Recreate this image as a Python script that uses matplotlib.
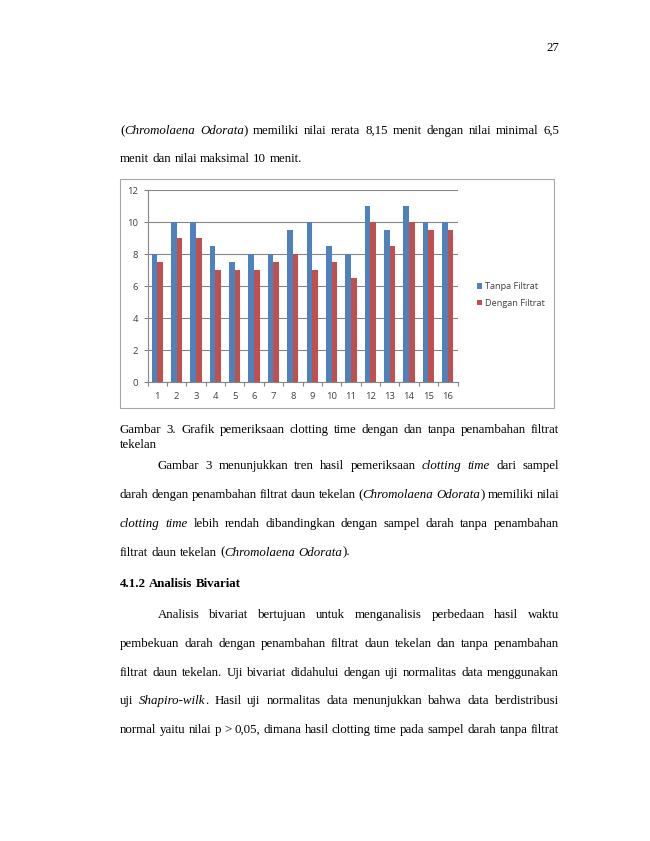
import matplotlib
matplotlib.use("Agg")
import matplotlib.pyplot as plt
import numpy as np
from matplotlib.patches import Rectangle

# Données (clotting time, en minutes)
sampel = [str(i) for i in range(1, 17)]
tanpa_filtrat = [8, 10, 10, 8.5, 7.5, 8, 8, 9.5, 10, 8.5, 8, 11, 9.5, 11, 10, 10]
dengan_filtrat = [7.5, 9, 9, 7, 7, 7, 7.5, 8, 7, 7.5, 6.5, 10, 8.5, 10, 9.5, 9.5]
y_ticks = [0, 2, 4, 6, 8, 10, 12]
legende = ["Tanpa Filtrat", "Dengan Filtrat"]

# Texte de la page ('*' = italique, '#' = gras)
ligne_haut = [
    "(*Chromolaena Odorata*) memiliki nilai rerata 8,15 menit dengan nilai minimal 6,5",
    "menit dan nilai maksimal 10 menit.",
]
legende_fig = [
    "Gambar 3. Grafik pemeriksaan clotting time dengan dan tanpa penambahan filtrat",
    "tekelan",
]
paragraphe1 = [
    "Gambar 3  menunjukkan tren hasil pemeriksaan *clotting time* dari sampel",
    "darah dengan penambahan filtrat daun tekelan (*Chromolaena Odorata*) memiliki nilai",
    "*clotting time* lebih rendah dibandingkan dengan sampel darah tanpa penambahan",
    "filtrat daun tekelan (*Chromolaena Odorata*).",
]
titre = "#4.1.2 Analisis Bivariat#"
paragraphe2 = [
    "Analisis bivariat bertujuan untuk menganalisis perbedaan hasil waktu",
    "pembekuan darah dengan penambahan filtrat daun tekelan dan tanpa penambahan",
    "filtrat daun tekelan. Uji bivariat didahului dengan uji normalitas data menggunakan",
    "uji *Shapiro-wilk*. Hasil uji normalitas data menunjukkan bahwa data berdistribusi",
    "normal yaitu nilai p > 0,05, dimana hasil clotting time pada sampel darah tanpa filtrat",
]

W, H = 650, 841
fig = plt.figure(figsize=(W / 100, H / 100), dpi=100)
fig.patch.set_facecolor("white")
renderer = fig.canvas.get_renderer()

SERIF = "Liberation Serif"
FS = 9.3
MARGE_G, MARGE_D = 120, 559


def parse(ligne):
    # découpe la ligne en mots, chaque mot = liste de (texte, style)
    mots = []
    italique = False
    gras = False
    for mot in ligne.split(" "):
        if mot == "":
            continue
        segs = []
        cur = ""
        for c in mot:
            if c in "*#":
                if cur:
                    segs.append((cur, italique, gras))
                cur = ""
                if c == "*":
                    italique = not italique
                else:
                    gras = not gras
            else:
                cur += c
        if cur:
            segs.append((cur, italique, gras))
        if segs:
            mots.append(segs)
    return mots


def props(it, gr):
    return dict(family=SERIF, fontsize=FS, style="italic" if it else "normal",
                weight="bold" if gr else "normal", color="black")


def largeur_brute(s, it, gr):
    t = fig.text(0, 0, s, **props(it, gr))
    w = t.get_window_extent(renderer).width
    t.remove()
    return w


def largeur(s, it, gr):
    # largeur d'avance (entre deux barres pour ne pas perdre les approches)
    return largeur_brute("|" + s + "|", it, gr) - largeur_brute("||", it, gr)


def ecrire(ligne, y, x0=MARGE_G, x1=MARGE_D, justifier=True):
    mots = parse(ligne)
    larg = [sum(largeur(s, it, gr) for s, it, gr in m) for m in mots]
    gr0 = mots[0][0][2]
    espace = largeur(" ", False, gr0)
    if justifier and len(mots) > 1:
        espace = max((x1 - x0 - sum(larg)) / (len(mots) - 1), 1.5)
    x = x0
    for m, lw in zip(mots, larg):
        xx = x
        for s, it, gr in m:
            fig.text(xx / W, 1 - y / H, s, va="baseline", ha="left", **props(it, gr))
            xx += largeur(s, it, gr)
        x += lw + espace


# numéro de page
fig.text(553 / W, 1 - 51 / H, "27", family=SERIF, fontsize=FS, ha="center", va="baseline")

ecrire(ligne_haut[0], 134)
ecrire(ligne_haut[1], 162, justifier=False)

# cadre du graphique
fig.patches.append(Rectangle((120 / W, 1 - 408 / H), (554 - 120) / W, (408 - 179) / H,
                             transform=fig.transFigure, fill=False, edgecolor="#a6a6a6", lw=0.8))

ax = fig.add_axes([147.5 / W, 1 - 382 / H, (457.5 - 147.5) / W, (382 - 190) / H])
x = np.arange(1, len(sampel) + 1)
lb = 0.29
ax.bar(x - lb / 2, tanpa_filtrat, lb, color="#4f81bd", label=legende[0], zorder=3)
ax.bar(x + lb / 2, dengan_filtrat, lb, color="#c0504d", label=legende[1], zorder=3)
ax.set_xlim(0.5, len(sampel) + 0.5)
ax.set_ylim(0, 12)
ax.set_yticks(y_ticks)
ax.set_yticklabels([str(v) for v in y_ticks])
ax.set_xticks(x)
ax.set_xticklabels(sampel)
ax.set_xticks(np.arange(0.5, len(sampel) + 1), minor=True)
ax.tick_params(axis="x", which="major", length=0, pad=7)
ax.tick_params(axis="x", which="minor", length=3, color="#868686", width=0.8)
ax.tick_params(axis="y", length=3, color="#868686", width=0.8, pad=4)
ax.tick_params(labelsize=6.8, labelcolor="#404040")
for lab in ax.get_xticklabels() + ax.get_yticklabels():
    lab.set_family("Open Sans")
ax.grid(axis="y", color="#868686", lw=0.8, zorder=0)
for c in ["top", "right"]:
    ax.spines[c].set_visible(False)
ax.spines["left"].set_color("#868686")
ax.spines["bottom"].set_color("#868686")
ax.spines["left"].set_linewidth(0.8)
ax.spines["bottom"].set_linewidth(0.8)
leg = fig.legend(loc="center left", bbox_to_anchor=(472 / W, 1 - 295 / H), frameon=False,
                 prop={"family": "Open Sans", "size": 6.6}, handlelength=0.6, handleheight=0.6,
                 handletextpad=0.3, labelspacing=0.8, borderpad=0)
for t in leg.get_texts():
    t.set_color("#404040")

ecrire(legende_fig[0], 433)
ecrire(legende_fig[1], 448, justifier=False)

y = 469
for i, l in enumerate(paragraphe1):
    ecrire(l, y, x0=158 if i == 0 else MARGE_G, justifier=i < len(paragraphe1) - 1)
    y += 28.9

ecrire(titre, 587, justifier=False)

y = 618
for i, l in enumerate(paragraphe2):
    ecrire(l, y, x0=158 if i == 0 else MARGE_G)
    y += 28.8

fig.savefig("out.png", dpi=100, facecolor="white")
